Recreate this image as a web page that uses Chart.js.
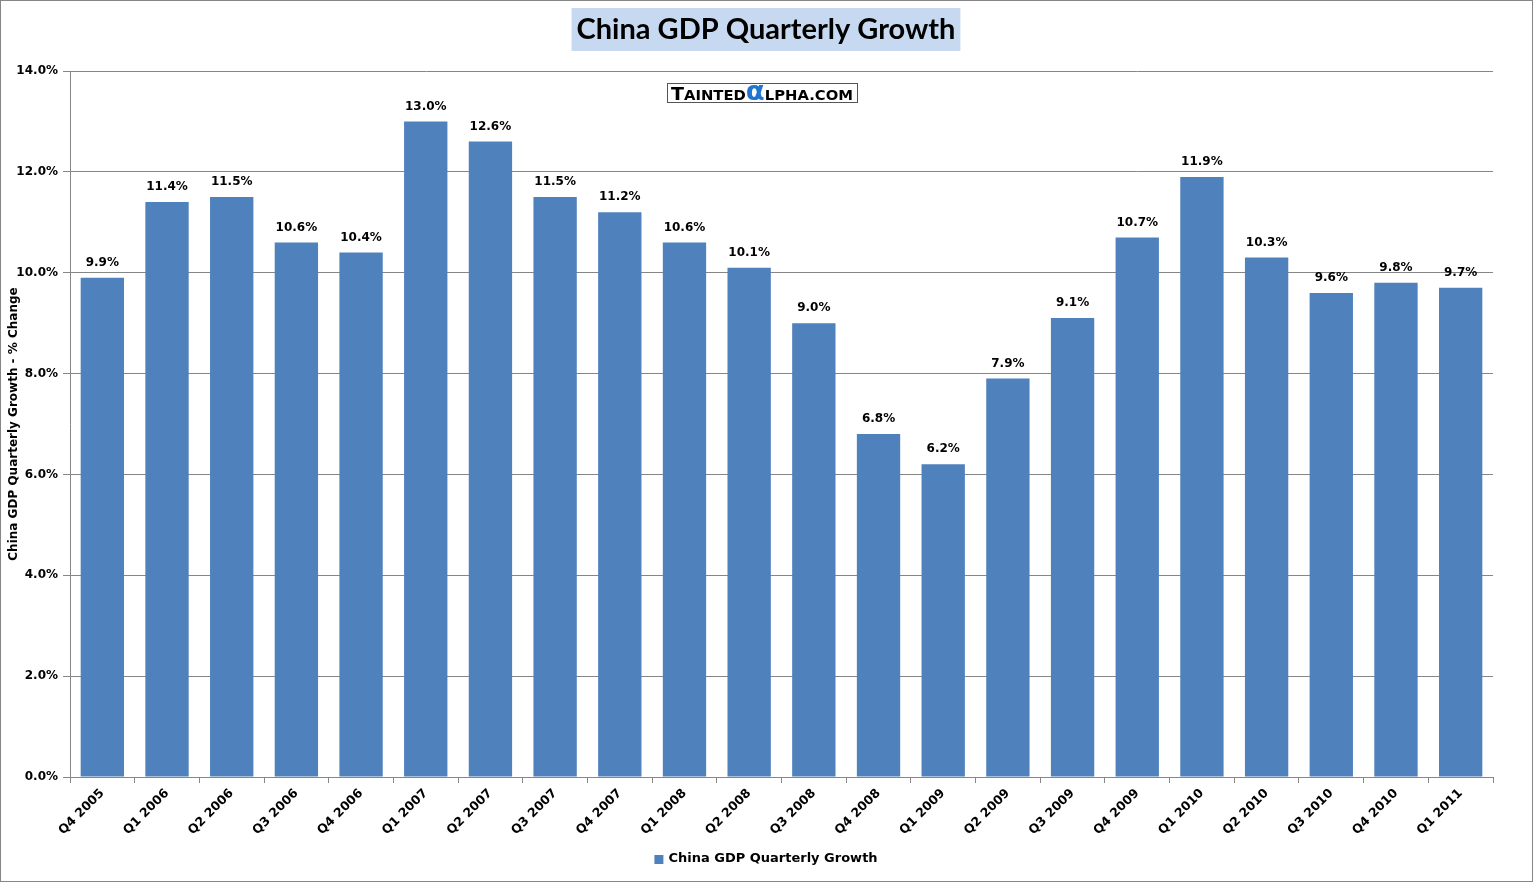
<!DOCTYPE html>
<html>
<head>
<meta charset="utf-8">
<script src="https://cdn.jsdelivr.net/npm/chart.js@4"></script>
<style>
  html, body { margin: 0; padding: 0; background: #fff; }
  #wrap { width: 1533px; height: 882px; position: relative; }
</style>
</head>
<body>
<div id="wrap"><canvas id="gdp" width="1533" height="882"></canvas></div>
<script>
// datos del grafico
const quarters = ['Q4 2005', 'Q1 2006', 'Q2 2006', 'Q3 2006', 'Q4 2006', 'Q1 2007', 'Q2 2007', 'Q3 2007',
    'Q4 2007', 'Q1 2008', 'Q2 2008', 'Q3 2008', 'Q4 2008', 'Q1 2009', 'Q2 2009', 'Q3 2009',
    'Q4 2009', 'Q1 2010', 'Q2 2010', 'Q3 2010', 'Q4 2010', 'Q1 2011'];
const growth = [9.9, 11.4, 11.5, 10.6, 10.4, 13.0, 12.6, 11.5, 11.2, 10.6, 10.1, 9.0,
    6.8, 6.2, 7.9, 9.1, 10.7, 11.9, 10.3, 9.6, 9.8, 9.7];
const yTicks = [0, 2, 4, 6, 8, 10, 12, 14];

const chartTitle = 'China GDP Quarterly Growth';
const seriesName = 'China GDP Quarterly Growth';
const yTitle = 'China GDP Quarterly Growth - % Change';

const BAR = '#4f81bd';
const GRID = '#868686';
const FONT = '"DejaVu Sans", Verdana, sans-serif';

// etiquetas, titulo, logo y leyenda
const decorPlugin = {
    id: 'decor',
    beforeDraw(chart) {
        const ctx = chart.ctx;
        ctx.save();
        ctx.fillStyle = '#fff';
        ctx.fillRect(0, 0, chart.width, chart.height);
        ctx.restore();
    },
    afterDraw(chart) {
        const ctx = chart.ctx;
        ctx.save();

        // borde exterior
        ctx.strokeStyle = GRID;
        ctx.lineWidth = 1;
        ctx.strokeRect(0.5, 0.5, chart.width - 1, chart.height - 1);

        // titulo
        ctx.font = 'bold 29px Lato, "Open Sans", sans-serif';
        const tw = ctx.measureText(chartTitle).width;
        const cx = 766;
        ctx.fillStyle = '#c6d9f1';
        ctx.fillRect(cx - tw / 2 - 5, 8, tw + 10, 43);
        ctx.fillStyle = '#000';
        ctx.textAlign = 'center';
        ctx.textBaseline = 'middle';
        ctx.fillText(chartTitle, cx, 30);

        // logo
        ctx.fillStyle = '#fff';
        ctx.fillRect(667, 83, 191, 20);
        ctx.strokeStyle = '#555';
        ctx.strokeRect(667.5, 83.5, 190, 19);
        ctx.textAlign = 'left';
        ctx.textBaseline = 'alphabetic';
        const parts = [
            ['T', 'bold 18px "DejaVu Sans", sans-serif', '#000'],
            ['AINTED', 'bold 14px "DejaVu Sans", sans-serif', '#000'],
            ['\u03b1', 'bold 26px "DejaVu Sans", sans-serif', '#1f75d0'],
            ['LPHA.COM', 'bold 14px "DejaVu Sans", sans-serif', '#000']
        ];
        let total = 0;
        parts.forEach(p => { ctx.font = p[1]; total += ctx.measureText(p[0]).width; });
        const sx = 182 / total;
        ctx.save();
        ctx.translate(671, 100);
        ctx.scale(sx, 1);
        let x = 0;
        parts.forEach(p => {
            ctx.font = p[1];
            ctx.fillStyle = p[2];
            ctx.fillText(p[0], x, 0);
            x += ctx.measureText(p[0]).width;
        });
        ctx.restore();

        // valores sobre las barras
        const meta = chart.getDatasetMeta(0);
        ctx.font = 'bold 12px ' + FONT;
        ctx.fillStyle = '#000';
        ctx.textAlign = 'center';
        ctx.textBaseline = 'middle';
        meta.data.forEach((bar, i) => {
            ctx.fillText(growth[i].toFixed(1) + '%', bar.x, bar.y - 15);
        });

        // leyenda
        ctx.font = 'bold 13px ' + FONT;
        const lw = ctx.measureText(seriesName).width;
        const lx = 766 - (lw + 14) / 2;
        ctx.fillStyle = BAR;
        ctx.fillRect(lx, 855, 9, 9);
        ctx.fillStyle = '#000';
        ctx.textAlign = 'left';
        ctx.fillText(seriesName, lx + 14, 859);

        ctx.restore();
    }
};

const ctx = document.getElementById('gdp').getContext('2d');
window.gdpChart = new Chart(ctx, {
    type: 'bar',
    data: {
        labels: quarters,
        datasets: [{
            label: seriesName,
            data: growth,
            backgroundColor: BAR,
            borderWidth: 0,
            categoryPercentage: 1,
            barPercentage: 0.67
        }]
    },
    options: {
        responsive: false,
        animation: false,
        devicePixelRatio: 1,
        layout: { padding: { top: 71, right: 40, left: 0, bottom: 0 } },
        plugins: {
            legend: { display: false },
            title: { display: false },
            tooltip: { enabled: false }
        },
        scales: {
            x: {
                afterFit(scale) { scale.height = 105; },
                grid: {
                    offset: true,
                    drawOnChartArea: false,
                    drawTicks: true,
                    tickLength: 6,
                    color: GRID
                },
                border: { color: GRID, width: 1 },
                ticks: {
                    maxRotation: 45,
                    minRotation: 45,
                    autoSkip: false,
                    padding: 3,
                    color: '#000',
                    font: { family: FONT, size: 12.5, weight: 'bold' }
                }
            },
            y: {
                min: 0,
                max: 14,
                afterFit(scale) { scale.width = 70; },
                afterBuildTicks(scale) {
                    scale.ticks = yTicks.map(v => ({ value: v }));
                },
                grid: {
                    color: GRID,
                    tickLength: 7
                },
                border: { color: GRID, width: 1 },
                ticks: {
                    padding: 5,
                    color: '#000',
                    font: { family: FONT, size: 12, weight: 'bold' },
                    callback: v => v.toFixed(1) + '%'
                },
                title: {
                    display: true,
                    text: yTitle,
                    color: '#000',
                    padding: { top: 7, bottom: 0 },
                    font: { family: FONT, size: 12, weight: 'bold' }
                }
            }
        }
    },
    plugins: [decorPlugin]
});
</script>
</body>
</html>
